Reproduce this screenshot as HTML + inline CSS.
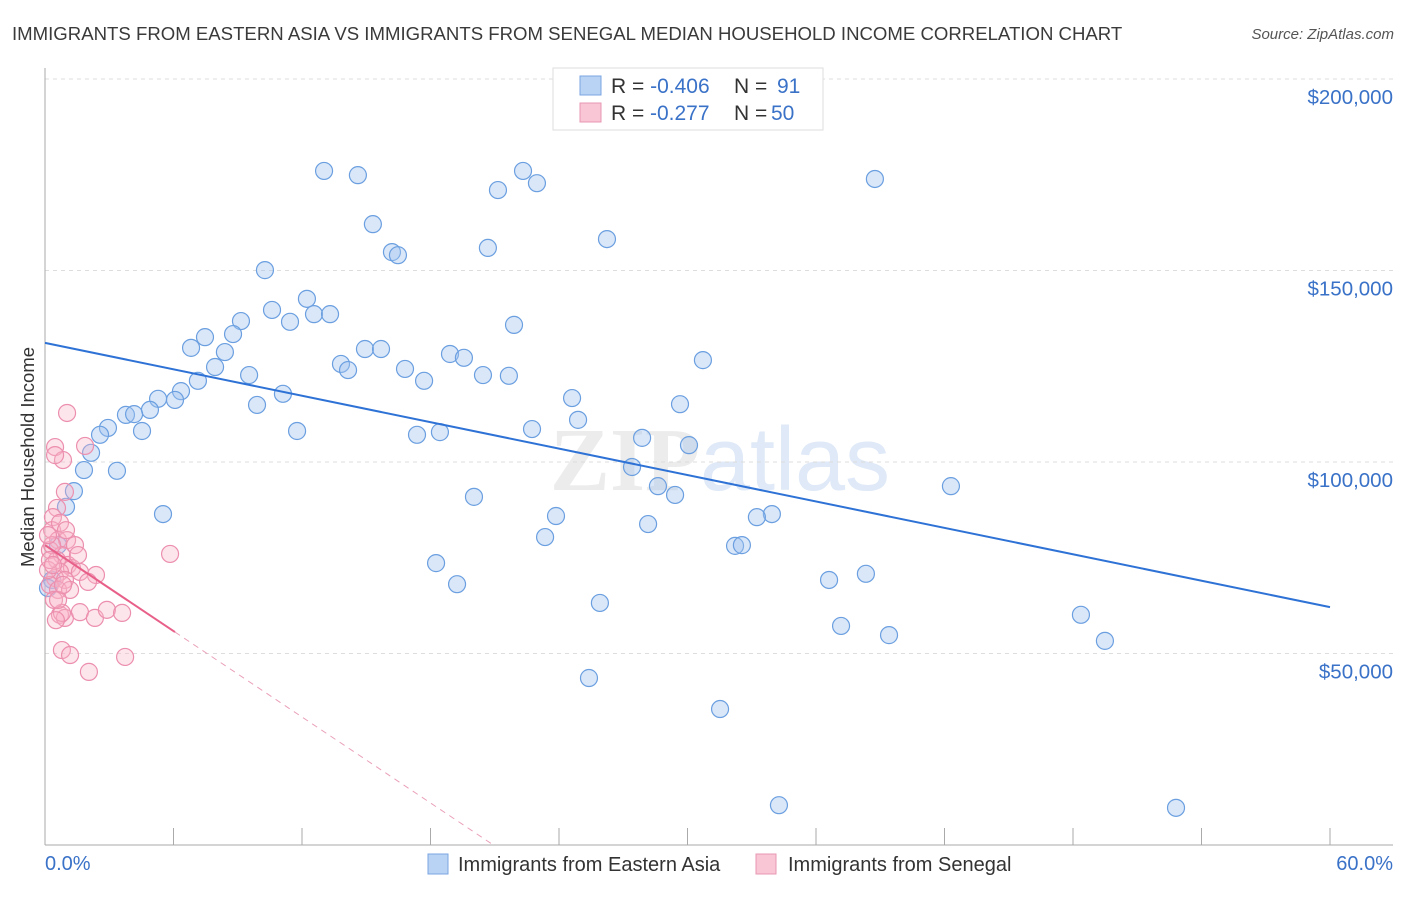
<!DOCTYPE html>
<html><head><meta charset="utf-8"><style>
body{margin:0;background:#fff;font-family:"Liberation Sans",sans-serif}
</style></head><body>
<svg id="chart" width="1406" height="892" xmlns="http://www.w3.org/2000/svg" font-family="Liberation Sans, sans-serif">
<text x="12" y="40" font-size="18.6" fill="#3a3a3a">IMMIGRANTS FROM EASTERN ASIA VS IMMIGRANTS FROM SENEGAL MEDIAN HOUSEHOLD INCOME CORRELATION CHART</text>
<text x="1394" y="39" font-size="15" fill="#555" font-style="italic" text-anchor="end">Source: ZipAtlas.com</text>
<text x="720" y="490" font-size="90" fill="#ececec" text-anchor="middle" font-family="Liberation Serif, serif" font-weight="bold">ZIP<tspan fill="#dfe9f7" font-family="Liberation Sans, sans-serif" font-weight="normal">atlas</tspan></text>
<g id="grid"></g>
<g id="axes"></g>
<g id="pts"></g>
<g id="lines"></g>
<text transform="translate(34,457) rotate(-90)" font-size="18.5" fill="#333" text-anchor="middle">Median Household Income</text>
<text x="45" y="870" font-size="20" fill="#3a72c8">0.0%</text>
<text x="1393" y="870" font-size="20" fill="#3a72c8" text-anchor="end">60.0%</text>
<g>
<rect x="553" y="68" width="270" height="62" fill="#fff" stroke="#ddd"/>
<rect x="580" y="76" width="21" height="19" fill="#b9d3f5" stroke="#7aa6e0"/>
<rect x="580" y="103" width="21" height="19" fill="#f9c6d6" stroke="#e897b1"/>
<text x="611" y="93" font-size="21" fill="#333">R = <tspan fill="#3a72c8">-0.406</tspan><tspan x="734">N = </tspan><tspan x="777" fill="#3a72c8">91</tspan></text>
<text x="611" y="120" font-size="21" fill="#333">R = <tspan x="650" fill="#3a72c8">-0.277</tspan><tspan x="734">N = </tspan><tspan x="771" fill="#3a72c8">50</tspan></text>
</g>
<g>
<rect x="428" y="854" width="20" height="20" fill="#b9d3f5" stroke="#7aa6e0"/>
<text x="458" y="871" font-size="20" fill="#333">Immigrants from Eastern Asia</text>
<rect x="756" y="854" width="20" height="20" fill="#f9c6d6" stroke="#e897b1"/>
<text x="788" y="871" font-size="20" fill="#333">Immigrants from Senegal</text>
</g>
</svg>
<script>
const yTicks=[50000,100000,150000,200000];
const yTickLabels=["$50,000","$100,000","$150,000","$200,000"];
const blueX=[13.03,14.61,22.32,22.97,21.15,38.75,15.31,26.24,16.20,16.48,20.68,10.27,12.23,10.60,12.56,13.31,11.44,9.15,21.90,8.78,7.47,6.82,8.40,14.94,15.69,18.91,19.56,13.82,14.15,16.81,20.45,21.66,30.72,7.94,9.53,7.14,17.70,6.35,5.28,6.07,11.11,9.90,24.61,29.65,4.90,3.78,4.16,24.89,2.94,4.53,2.57,11.77,17.37,18.44,22.74,27.88,30.07,2.15,1.82,3.36,27.41,1.35,28.62,29.42,20.03,42.30,0.98,5.51,23.86,33.94,33.24,28.16,23.35,32.22,32.54,18.26,19.24,36.61,38.33,25.91,48.37,37.17,39.41,49.49,25.40,31.52,34.27,52.81,0.61,0.33,0.14];
const blueY=[176.0,174.9,176.0,172.8,171.0,173.9,162.1,158.2,154.8,154.0,155.9,150.1,142.6,139.7,138.6,138.6,136.6,136.8,135.8,133.4,132.6,129.8,128.7,129.5,129.5,128.2,127.2,125.6,124.0,124.3,122.7,122.5,126.6,124.8,122.7,121.2,121.2,118.5,116.5,116.2,117.8,114.9,116.7,115.1,113.6,112.3,112.5,111.0,108.9,108.1,107.1,108.1,107.1,107.8,108.6,106.3,104.4,102.4,97.9,97.7,98.7,92.4,93.7,91.4,90.9,93.7,88.3,86.4,85.9,86.4,85.6,83.8,80.4,78.1,78.3,73.6,68.1,69.2,70.8,63.2,60.1,57.2,54.8,53.3,43.6,35.5,10.4,9.7,78.3,69.2,67.1];
const pinkX=[1.03,0.47,0.84,0.47,1.87,0.93,0.56,0.37,0.33,0.61,1.03,0.23,0.79,0.56,1.07,1.26,0.70,0.47,0.93,0.23,0.61,1.63,2.38,2.01,5.84,0.70,0.93,0.79,1.63,2.33,2.89,3.60,0.79,1.17,3.74,2.05,0.14,0.42,0.33,0.70,0.23,1.40,0.98,0.37,1.17,0.14,0.61,0.84,1.54,0.51];
const pinkY=[112.8,103.9,100.5,101.8,104.2,92.2,88.0,85.6,82.2,79.6,79.6,77.0,75.7,74.4,73.1,72.3,71.3,69.7,69.2,67.9,66.6,71.3,70.5,68.7,76.0,60.1,59.3,60.6,60.8,59.3,61.4,60.6,50.9,49.6,49.1,45.2,71.8,64.0,78.3,84.1,74.4,78.3,82.2,73.1,66.6,80.9,64.0,67.9,75.7,58.7];
const blueTrend=[131.1,62.1];
const pinkTrend=[78.3,-3.74];
const NS="http://www.w3.org/2000/svg";
const X=p=>45+p*(1285/60);
const Y=v=>845-v*(191.5/50000);
const Yk=v=>Y(v*1000);
function mk(t,a,parent){const e=document.createElementNS(NS,t);for(const k in a)e.setAttribute(k,a[k]);parent.appendChild(e);return e;}
const grid=document.getElementById('grid'),axes=document.getElementById('axes'),pts=document.getElementById('pts'),lines=document.getElementById('lines');
yTicks.forEach((v,i)=>{
 const g=mk('line',{x1:45,x2:1393,y1:Y(v),y2:Y(v),stroke:'#ddd','stroke-dasharray':'4,4'},grid);
 
 
 const t=mk('text',{x:1393,y:Y(v)+25,'font-size':20.5,fill:'#3a72c8','text-anchor':'end'},axes);
 
 
 t.textContent=yTickLabels[i];
});
const ya=mk('line',{x1:45,x2:45,y1:68,y2:845,stroke:'#aaa'},axes);


const xa=mk('line',{x1:45,x2:1393,y1:845,y2:845,stroke:'#aaa'},axes);


for(let i=1;i<=10;i++){const tk=mk('line',{x1:X(i*6),x2:X(i*6),y1:828,y2:845,stroke:'#aaa'},axes);
 
 }
blueX.forEach((x,i)=>{const c=mk('circle',{cx:X(x),cy:Yk(blueY[i]),r:8.5,fill:'rgba(160,196,240,0.4)',stroke:'#6b9fe0','stroke-width':1.2},pts);
 
 });
pinkX.forEach((x,i)=>{const c=mk('circle',{cx:X(x),cy:Yk(pinkY[i]),r:8.5,fill:'rgba(248,180,200,0.35)',stroke:'#ec8fae','stroke-width':1.2},pts);
 
 });
const bl=mk('line',{x1:X(0),y1:Yk(blueTrend[0]),x2:X(60),y2:Yk(blueTrend[1]),stroke:'#2e72d6','stroke-width':2},lines);


const pEnd=6.07,pZero=-pinkTrend[0]/pinkTrend[1];
const pl=mk('line',{x1:X(0),y1:Yk(pinkTrend[0]),x2:X(pEnd),y2:Yk(pinkTrend[0]+pinkTrend[1]*pEnd),stroke:'#e8608a','stroke-width':2},lines);


const pd=mk('line',{x1:X(pEnd),y1:Yk(pinkTrend[0]+pinkTrend[1]*pEnd),x2:X(pZero),y2:Yk(0),stroke:'#eaa0b8','stroke-width':1,'stroke-dasharray':'6,5'},lines);


</script>
</body></html>
